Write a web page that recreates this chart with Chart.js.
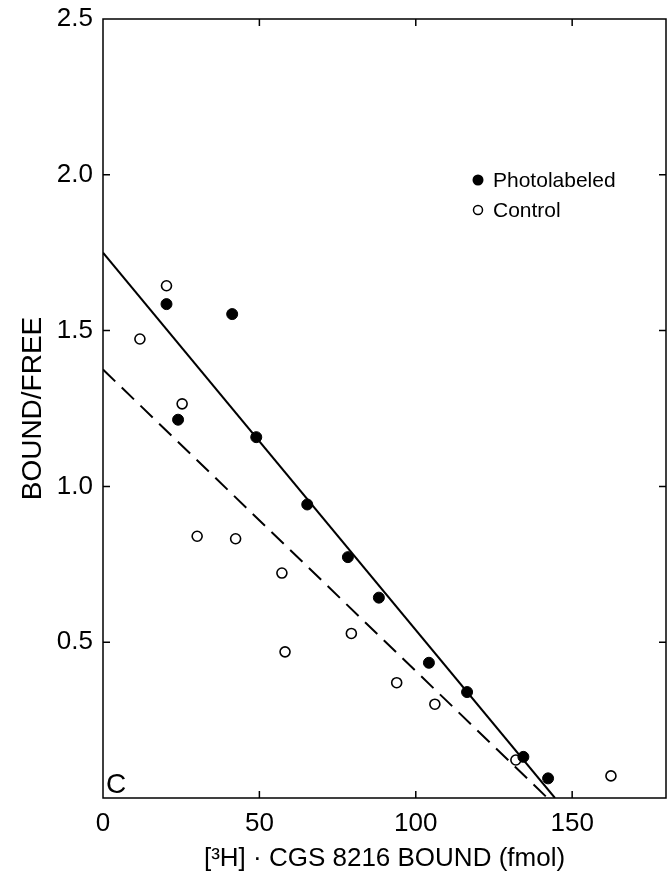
<!DOCTYPE html>
<html>
<head>
<meta charset="utf-8">
<title>Bound/Free</title>
<script src="https://cdn.jsdelivr.net/npm/chart.js@4.4.1/dist/chart.umd.min.js"></script>
<style>
    html, body { margin: 0; padding: 0; background: #fff; }
    #wrap { width: 667px; height: 881px; position: relative; }
</style>
</head>
<body>
<div id="wrap"><canvas id="scatchard"></canvas></div>
<script>
    // data
    var photoX = [20.3, 41.3, 24.0, 49.0, 65.3, 78.3, 88.2, 104.2, 116.4, 134.4, 142.3];
    var photoY = [1.585, 1.553, 1.214, 1.158, 0.942, 0.773, 0.643, 0.434, 0.340, 0.132, 0.063];

    var controlX = [20.3, 11.8, 25.3, 30.1, 42.4, 57.2, 58.2, 79.4, 93.9, 106.1, 132.0, 162.4];
    var controlY = [1.644, 1.473, 1.265, 0.840, 0.832, 0.722, 0.469, 0.528, 0.370, 0.301, 0.122, 0.071];

    // fitted lines (end points)
    var photoFitX = [0, 144.5];
    var photoFitY = [1.75, 0];
    var controlFitX = [0, 142.1];
    var controlFitY = [1.375, 0];

    var xTicks = [0, 50, 100, 150];
    var yTicks = [0.5, 1.0, 1.5, 2.0, 2.5];

    var legendLabels = ["Photolabeled", "Control"];
    var panelLabel = "C";

    function pts(xs, ys) {
        var out = [];
        for (var i = 0; i < xs.length; i++) {
            out.push({ x: xs[i], y: ys[i] });
        }
        return out;
    }

    // box, inward ticks, legend and panel letter
    var frame = {
        id: 'frame',
        afterDraw: function (chart) {
            var ctx = chart.ctx;
            var a = chart.chartArea;
            var sx = chart.scales.x, sy = chart.scales.y;
            var len = 7;
            ctx.save();
            ctx.strokeStyle = '#000';
            ctx.lineWidth = 1.5;
            ctx.strokeRect(a.left, a.top, a.right - a.left, a.bottom - a.top);
            ctx.beginPath();
            xTicks.forEach(function (v) {
                if (v === 0) return;
                var px = sx.getPixelForValue(v);
                ctx.moveTo(px, a.bottom); ctx.lineTo(px, a.bottom - len);
                ctx.moveTo(px, a.top); ctx.lineTo(px, a.top + len);
            });
            yTicks.forEach(function (v) {
                if (v === 2.5) return;
                var py = sy.getPixelForValue(v);
                ctx.moveTo(a.left, py); ctx.lineTo(a.left + len, py);
                ctx.moveTo(a.right, py); ctx.lineTo(a.right - len, py);
            });
            ctx.stroke();

            // legend
            ctx.font = '21px "Liberation Sans", Arial, sans-serif';
            ctx.textBaseline = 'middle';
            ctx.fillStyle = '#000';
            var lx = 478, ly = 180;
            ctx.beginPath();
            ctx.arc(lx, ly, 5.5, 0, Math.PI * 2);
            ctx.fill();
            ctx.fillText(legendLabels[0], lx + 15, ly + 1);
            ctx.beginPath();
            ctx.lineWidth = 1.5;
            ctx.arc(lx, ly + 30, 4.5, 0, Math.PI * 2);
            ctx.stroke();
            ctx.fillText(legendLabels[1], lx + 15, ly + 31);

            // panel letter
            ctx.font = '28px "Liberation Sans", Arial, sans-serif';
            ctx.textBaseline = 'alphabetic';
            ctx.fillText(panelLabel, a.left + 3, a.bottom - 5);
            ctx.restore();
        }
    };

    var tickFont = { family: '"Liberation Sans", Arial, sans-serif', size: 26 };
    var titleFont = { family: '"Liberation Sans", Arial, sans-serif', size: 26 };

    var ctx1 = document.getElementById('scatchard').getContext('2d');
    var myChart1 = new Chart(ctx1, {
        type: 'scatter',
        data: {
            datasets: [{
                label: legendLabels[0],
                data: pts(photoX, photoY),
                pointRadius: 5.5,
                pointBackgroundColor: '#000',
                pointBorderColor: '#000',
                pointBorderWidth: 1
            }, {
                label: legendLabels[1],
                data: pts(controlX, controlY),
                pointRadius: 5,
                pointBackgroundColor: '#fff',
                pointBorderColor: '#000',
                pointBorderWidth: 1.6
            }, {
                label: 'fit photolabeled',
                type: 'line',
                data: pts(photoFitX, photoFitY),
                borderColor: '#000',
                borderWidth: 2,
                pointRadius: 0,
                fill: false
            }, {
                label: 'fit control',
                type: 'line',
                data: pts(controlFitX, controlFitY),
                borderColor: '#000',
                borderWidth: 2,
                borderDash: [17, 9],
                pointRadius: 0,
                fill: false
            }]
        },
        options: {
            responsive: true,
            maintainAspectRatio: false,
            animation: false,
            layout: { autoPadding: false, padding: { top: 19, right: 1, left: 0, bottom: 0 } },
            plugins: {
                legend: { display: false },
                tooltip: { enabled: false }
            },
            scales: {
                x: {
                    type: 'linear',
                    min: 0,
                    max: 180,
                    afterBuildTicks: function (s) {
                        s.ticks = xTicks.map(function (v) { return { value: v }; });
                    },
                    afterFit: function (s) {
                        s.height = 83;
                        s.paddingLeft = 0;
                        s.paddingRight = 0;
                    },
                    grid: { display: false, drawTicks: false },
                    border: { display: false },
                    ticks: {
                        color: '#000',
                        font: tickFont,
                        padding: 10,
                        maxRotation: 0,
                        callback: function (v) { return v; }
                    },
                    title: {
                        display: true,
                        text: '[\u00B3H] \u00B7 CGS 8216 BOUND (fmol)',
                        color: '#000',
                        font: titleFont,
                        padding: { top: 0, bottom: 7 }
                    }
                },
                y: {
                    type: 'linear',
                    min: 0,
                    max: 2.5,
                    afterBuildTicks: function (s) {
                        s.ticks = yTicks.map(function (v) { return { value: v }; });
                    },
                    afterFit: function (s) {
                        s.width = 103;
                        s.paddingTop = 0;
                        s.paddingBottom = 0;
                    },
                    grid: { display: false, drawTicks: false },
                    border: { display: false },
                    ticks: {
                        color: '#000',
                        font: tickFont,
                        padding: 10,
                        callback: function (v) { return v.toFixed(1); }
                    },
                    title: {
                        display: true,
                        text: 'BOUND/FREE',
                        color: '#000',
                        font: { family: titleFont.family, size: 28 },
                        padding: { top: 16, bottom: 0 }
                    }
                }
            }
        },
        plugins: [frame]
    });
</script>
</body>
</html>
